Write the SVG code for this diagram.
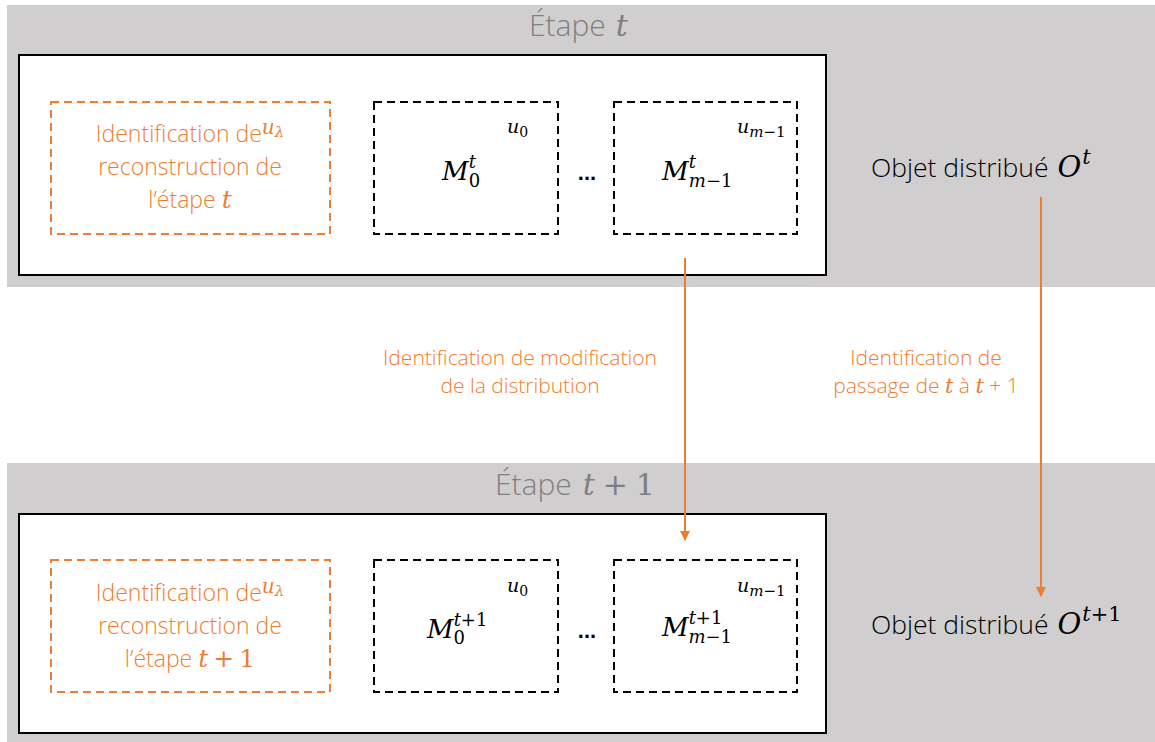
<svg xmlns="http://www.w3.org/2000/svg" width="1155" height="742" viewBox="0 0 1155 742">
<style>
.band{fill:#d0cece}
.frame{fill:#fff;stroke:#000;stroke-width:2}
.odash{fill:#fff;stroke:#ed7d31;stroke-width:2;stroke-dasharray:8,5}
.kdash{fill:#fff;stroke:#000;stroke-width:2;stroke-dasharray:8,5}
.sans{font-family:"Open Sans","Liberation Sans",sans-serif;font-weight:300}
.title{font-size:30px;fill:#7f7f7f}
.otxt{font-size:23px;fill:#ed7d31;text-anchor:middle}
.mtxt{font-size:21px;fill:#ed7d31;text-anchor:middle}
.btxt{font-size:26.5px;fill:#000}
.math{font-family:"DejaVu Serif","Liberation Serif",serif;font-style:italic;font-weight:normal}
.up{font-style:normal}
.conn{stroke:#ed7d31;stroke-width:2;fill:none}
</style>
<defs>
<marker id="arr" markerWidth="10" markerHeight="10" refX="9" refY="5" orient="auto" markerUnits="userSpaceOnUse">
<path d="M0,0 L10,5 L0,10 z" fill="#ed7d31"/>
</marker>
</defs>

<g id="step-t">
<rect class="band" x="7" y="5" width="1148" height="282"/>
<text class="sans title" x="529" y="36">Étape <tspan class="math" dx="2">t</tspan></text>
<rect class="frame" x="19" y="55" width="807" height="220"/>
</g>

<g id="step-t1">
<rect class="band" x="7" y="463" width="1148" height="279"/>
<text class="sans title" x="495" y="495">Étape <tspan class="math" dx="3">t</tspan><tspan class="math up" dx="8">+</tspan><tspan class="math up" dx="8">1</tspan></text>
<rect class="frame" x="19" y="514" width="807" height="219"/>
</g>

<g id="recon-t">
<rect class="odash" x="51" y="102" width="279" height="132"/>
<text class="sans otxt" x="190" y="142">Identification de<tspan class="math" font-size="20" dy="-8">u</tspan><tspan class="math" font-size="15" dy="3">λ</tspan></text>
<text class="sans otxt" x="190" y="175">reconstruction de</text>
<text class="sans otxt" x="190" y="208">l’étape <tspan class="math" font-size="25">t</tspan></text>
</g>

<g id="M0-t">
<rect class="kdash" x="374" y="102" width="184" height="132"/>
<text class="math" x="507" y="133" font-size="19">u<tspan class="up" font-size="14" dy="4">0</tspan></text>
<text class="math" x="442" y="180" font-size="26">M<tspan font-size="18" dy="-12">t</tspan><tspan class="up" font-size="18" dx="-7" dy="19">0</tspan></text>
</g>

<text id="dots-t" x="587" y="180" font-family="Liberation Sans,sans-serif" font-size="22" font-weight="bold" text-anchor="middle">...</text>

<g id="Mm-t">
<rect class="kdash" x="614" y="102" width="183" height="132"/>
<text class="math" x="737" y="133" font-size="19">u<tspan font-size="15" dy="4">m</tspan><tspan class="up" font-size="15">−1</tspan></text>
<text class="math" x="662" y="180" font-size="26">M<tspan font-size="18" dy="-12">t</tspan><tspan font-size="18" dx="-7" dy="19">m</tspan><tspan class="up" font-size="18">−1</tspan></text>
</g>

<g id="obj-t">
<text class="sans btxt" x="871" y="177">Objet distribué <tspan class="math" font-size="29" dx="2">O</tspan><tspan class="math" font-size="21" dx="1" dy="-13">t</tspan></text>
</g>

<g id="recon-t1">
<rect class="odash" x="51" y="560" width="279" height="132"/>
<text class="sans otxt" x="190" y="601">Identification de<tspan class="math" font-size="20" dy="-8">u</tspan><tspan class="math" font-size="15" dy="3">λ</tspan></text>
<text class="sans otxt" x="190" y="634">reconstruction de</text>
<text class="sans otxt" x="190" y="667">l’étape <tspan class="math" font-size="25">t</tspan><tspan class="math up" font-size="25" dx="5">+</tspan><tspan class="math up" font-size="25" dx="5">1</tspan></text>
</g>

<g id="M0-t1">
<rect class="kdash" x="374" y="560" width="184" height="132"/>
<text class="math" x="507" y="592" font-size="19">u<tspan class="up" font-size="14" dy="4">0</tspan></text>
<text class="math" x="427" y="638" font-size="26">M<tspan font-size="18" dy="-12">t</tspan><tspan class="up" font-size="18">+1</tspan><tspan class="up" font-size="18" dx="-34" dy="18">0</tspan></text>
</g>

<text id="dots-t1" x="587" y="638" font-family="Liberation Sans,sans-serif" font-size="22" font-weight="bold" text-anchor="middle">...</text>

<g id="Mm-t1">
<rect class="kdash" x="614" y="560" width="183" height="132"/>
<text class="math" x="737" y="592" font-size="19">u<tspan font-size="15" dy="4">m</tspan><tspan class="up" font-size="15">−1</tspan></text>
<text class="math" x="662" y="636" font-size="26">M<tspan font-size="18" dy="-12">t</tspan><tspan class="up" font-size="18">+1</tspan><tspan font-size="18" dx="-34" dy="19">m</tspan><tspan class="up" font-size="18">−1</tspan></text>
</g>

<g id="obj-t1">
<text class="sans btxt" x="871" y="634">Objet distribué <tspan class="math" font-size="29" dx="2">O</tspan><tspan class="math" font-size="21" dx="1" dy="-13">t</tspan><tspan class="up math" font-size="21">+1</tspan></text>
</g>

<g id="connectors">
<line class="conn" x1="685" y1="258" x2="685" y2="540" marker-end="url(#arr)"/>
<line class="conn" x1="1041" y1="197" x2="1041" y2="596" marker-end="url(#arr)"/>
<text class="sans mtxt" x="520" y="365">Identification de modification</text>
<text class="sans mtxt" x="520" y="393">de la distribution</text>
<text class="sans mtxt" x="926" y="365">Identification de</text>
<text class="sans mtxt" x="926" y="393">passage de <tspan class="math">t</tspan> à <tspan class="math">t</tspan> + 1</text>
</g>
</svg>
